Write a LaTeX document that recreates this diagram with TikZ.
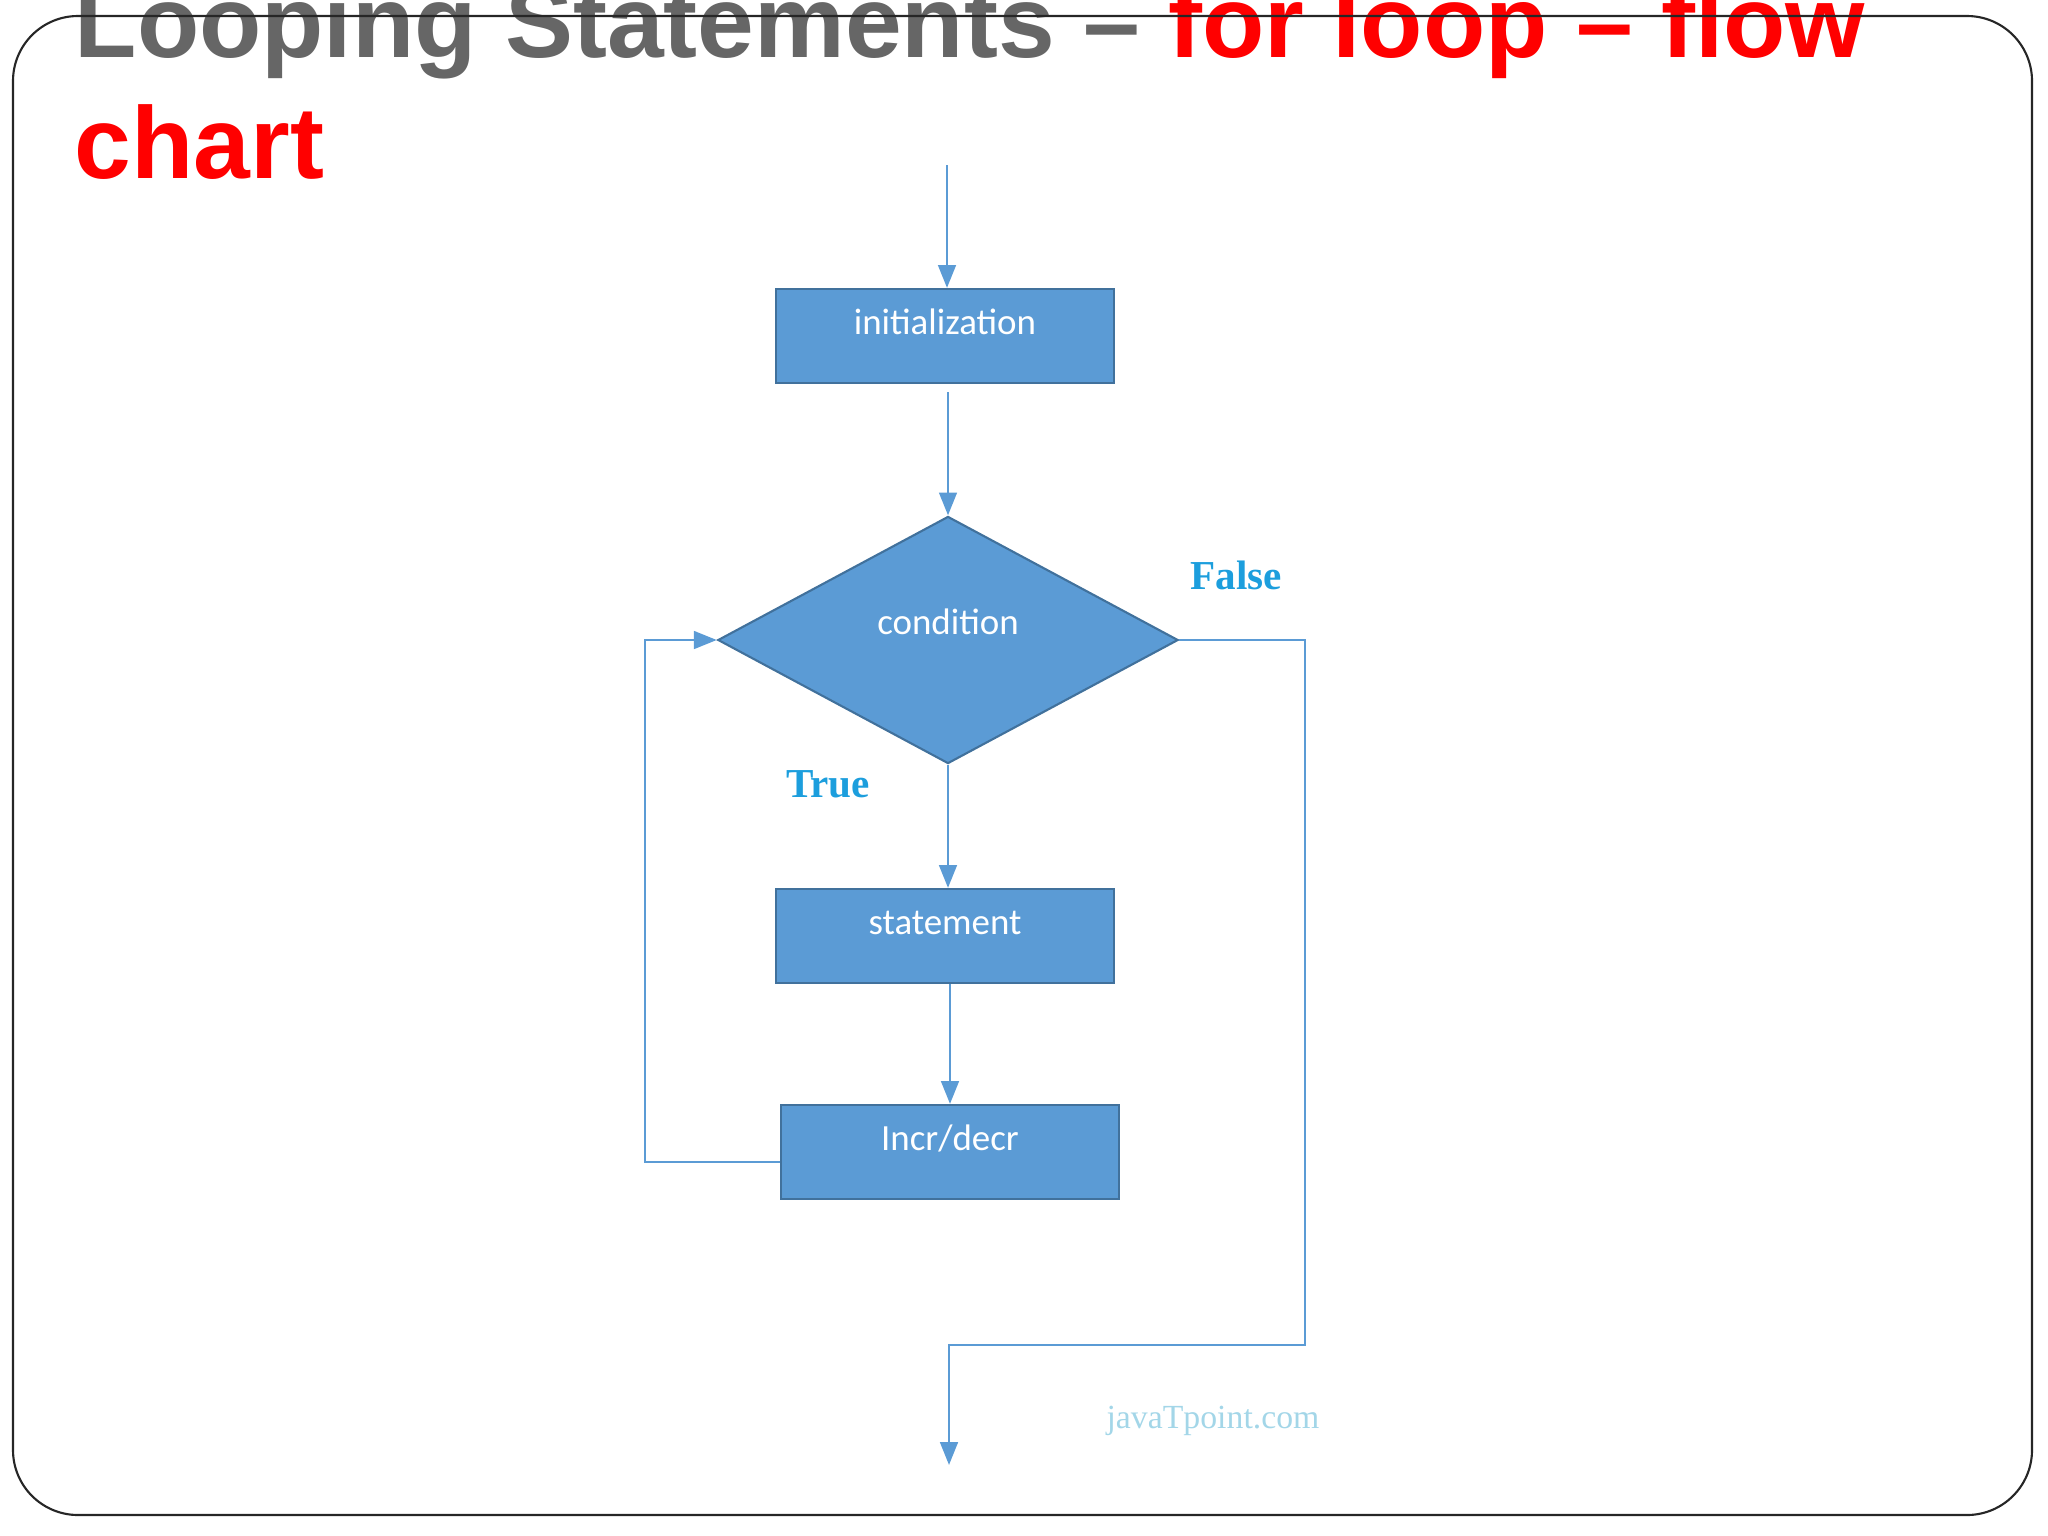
\documentclass[tikz,border=0pt]{standalone}
\usepackage{fontspec}
\usetikzlibrary{shapes.geometric,arrows.meta}
\newfontfamily\titlefont{Liberation Sans}
\newfontfamily\boxfont{Carlito}
\newfontfamily\labelfont{Liberation Serif}
\definecolor{flowblue}{HTML}{5B9BD5}
\definecolor{flowedge}{HTML}{41719C}
\definecolor{labelblue}{HTML}{1C9EDD}
\definecolor{markcyan}{HTML}{A3D6E8}
\definecolor{titlegray}{HTML}{666666}
\def\boxw{3.38cm}
\def\boxh{0.94cm}

\begin{document}
\begin{tikzpicture}[x=0.01cm, y=-0.01cm,
    flowbox/.style={rectangle, draw=flowedge, fill=flowblue, line width=0.6pt,
        minimum width=\boxw, minimum height=\boxh, inner sep=0pt,
        text height=0.45cm, text depth=0.49cm, text=white,
        font=\boxfont\fontsize{10.5}{12}\selectfont},
    flowcond/.style={diamond, draw=flowedge, fill=flowblue, line width=0.6pt,
        minimum width=4.6cm, minimum height=2.47cm, shape aspect=1.86, inner sep=0pt,
        text height=0.3cm, text depth=0.42cm, text=white,
        font=\boxfont\fontsize{10.5}{12}\selectfont},
    flowline/.style={draw=flowblue, line width=0.8pt, -{Triangle[length=6.5pt, width=5pt]}},
    branch/.style={text=labelblue, inner sep=0pt, font=\labelfont\bfseries\fontsize{11.7}{13}\selectfont},
    heading/.style={anchor=base west, inner sep=0pt, font=\titlefont\bfseries\fontsize{29}{35}\selectfont}]

\useasboundingbox (0,0) rectangle (2048,1536);

\node[heading] (title) at (74,57) {\textcolor{titlegray}{Looping Statements – }\textcolor{red}{for loop – flow}};
\node[heading] (titlecont) at (74,178) {\textcolor{red}{chart}};

\coordinate (start) at (947,165);
\node[flowbox] (init) at (945,336) {initialization};
\node[flowcond] (cond) at (948,640) {condition};
\node[flowbox] (stmt) at (945,936) {statement};
\node[flowbox] (incr) at (950,1152) {Incr/decr};
\coordinate (back) at (645,640);
\coordinate (fturn) at (1305,1345);
\coordinate (exit) at (949,1465);

\node[branch] (false) at (1236,575) {False};
\node[branch] (true) at (828,784) {True};
\node[text=markcyan, inner sep=0pt, font=\labelfont\fontsize{9.6}{11}\selectfont] (mark) at (1213,1421) {javaTpoint.com};

\draw[flowline] (start) -- (start |- init.north);
\draw[flowline] ([yshift=-0.08cm]init.south -| cond.north) -- (cond.north);
\draw[flowline] (cond.south) -- (cond.south |- stmt.north);
\draw[flowline] (stmt.south -| incr.north) -- (incr);
\draw[flowline] ([yshift=-0.1cm]incr.west) -| (back) -- (cond.west);
\draw[flowline] (cond.east) -| (fturn) -| (exit);

\draw[line width=0.6pt, draw=black!85, rounded corners=0.65cm] (13,16) rectangle (2032,1515);
\end{tikzpicture}
\end{document}
